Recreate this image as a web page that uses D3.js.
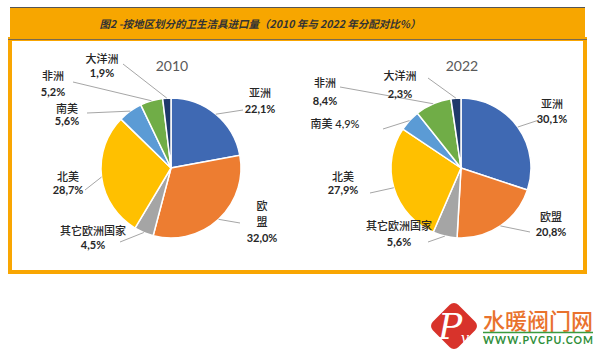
<!DOCTYPE html>
<html>
<head>
<meta charset="utf-8">
<script src="https://cdn.jsdelivr.net/npm/d3@7"></script>
<style>
  body { margin: 0; background: #fff; }
  svg { display: block; }
  .cjk { font-family: "Noto Sans CJK SC", sans-serif; }
</style>
</head>
<body>
<svg id="chart"></svg>
<script>
// data
var regions = ['亚洲', '欧盟', '其它欧洲国家', '北美', '南美', '非洲', '大洋洲']
var share2010 = [22.1, 32.0, 4.5, 28.7, 5.6, 5.2, 1.9]
var share2022 = [30.1, 20.8, 5.6, 27.9, 4.9, 8.4, 2.3]
var years = ['2010', '2022']
var title = '图2 -按地区划分的卫生洁具进口量（2010 年与 2022 年分配对比%）'

var colors = ['#3F69B3', '#ED7D31', '#A5A5A5', '#FFC000', '#5B9BD5', '#70AD47', '#1F3A6B']

var width = 600, height = 354
var radius = 70

// label placement (layout only), index matches regions
var labelLayout2010 = [
  {x: 260, y: 92, gap: 16, mode: 'two', ex: 243, ey: 110},
  {x: 262, y: 205, gap: 16, mode: 'vert', ex: 240, ey: 223},
  {x: 93, y: 230, gap: 14, mode: 'two', ex: 120, ey: 242},
  {x: 68, y: 176, gap: 13, mode: 'two', ex: 85, ey: 190},
  {x: 67, y: 108, gap: 12, mode: 'two', ex: 87, ey: 113},
  {x: 53, y: 75, gap: 16, mode: 'two', ex: 73, ey: 82},
  {x: 102, y: 58, gap: 14, mode: 'two', ex: 123, ey: 64}
]
var labelLayout2022 = [
  {x: 552, y: 103, gap: 15, mode: 'two', ex: 539, ey: 120},
  {x: 551, y: 216, gap: 15, mode: 'two', ex: 530, ey: 232},
  {x: 399, y: 225, gap: 16, mode: 'two', ex: 428, ey: 242},
  {x: 343, y: 176, gap: 13, mode: 'two', ex: 370, ey: 193},
  {x: 335, y: 123, gap: 0, mode: 'one', ex: 383, ey: 129},
  {x: 325, y: 82, gap: 18, mode: 'two', ex: 340, ey: 87},
  {x: 400, y: 75, gap: 18, mode: 'two', ex: 428, ey: 78}
]

var svg = d3.select('#chart')
  .attr('width', width)
  .attr('height', height)

// frame
svg.append('rect')
  .attr('x', 10).attr('y', 39)
  .attr('width', 575).attr('height', 233)
  .attr('fill', '#fff')
  .attr('stroke', '#F9A602')
  .attr('stroke-width', 4)

svg.append('rect')
  .attr('x', 10).attr('y', 7)
  .attr('width', 575).attr('height', 32)
  .attr('fill', '#F7A600')

svg.append('line')
  .attr('x1', 10).attr('x2', 585)
  .attr('y1', 7.5).attr('y2', 7.5)
  .attr('stroke', '#555').attr('stroke-width', 1.2)

svg.append('line')
  .attr('x1', 8).attr('x2', 587)
  .attr('y1', 39.5).attr('y2', 39.5)
  .attr('stroke', '#7a6a50').attr('stroke-width', 1)

svg.append('text')
  .attr('class', 'cjk')
  .attr('x', 260).attr('y', 23)
  .attr('text-anchor', 'middle')
  .attr('dominant-baseline', 'central')
  .attr('font-size', 10.5)
  .attr('font-style', 'italic')
  .attr('font-weight', 'bold')
  .attr('fill', '#333')
  .text(title)

var pie = d3.pie().sort(null).value(d => d)
var arc = d3.arc().innerRadius(0).outerRadius(radius)

function drawPie(cx, cy, values, year, layout) {
  var g = svg.append('g').attr('transform', 'translate(' + cx + ',' + cy + ')')
  var slices = pie(values)

  g.selectAll('path')
    .data(slices)
    .enter()
    .append('path')
      .attr('d', arc)
      .attr('fill', (d, i) => colors[i])
      .attr('stroke', '#fff')
      .attr('stroke-width', 1.5)

  svg.append('text')
    .attr('x', cx + 1).attr('y', cy - 103)
    .attr('text-anchor', 'middle')
    .attr('dominant-baseline', 'central')
    .attr('font-family', 'Lato, sans-serif')
    .attr('font-size', 14)
    .attr('fill', '#595959')
    .text(year)

  // leader lines from the slice edge to the label
  slices.forEach((s, i) => {
    var a = (s.startAngle + s.endAngle) / 2
    var L = layout[i]
    svg.append('line')
      .attr('x1', cx + radius * Math.sin(a))
      .attr('y1', cy - radius * Math.cos(a))
      .attr('x2', L.ex).attr('y2', L.ey)
      .attr('stroke', '#A6A6A6')
      .attr('stroke-width', 1)

    var pct = d3.format('.1f')(values[i]).replace('.', ',') + '%'
    var lab = svg.append('g')
    var lines = []
    if (L.mode == 'two') lines = [[regions[i], 'n'], [pct, 'p']]
    else if (L.mode == 'vert') lines = regions[i].split('').map(c => [c, 'n']).concat([[pct, 'p']])
    else lines = [[regions[i] + ' ' + pct, 'n']]

    lines.forEach((ln, k) => {
      lab.append('text')
        .attr('x', L.x)
        .attr('y', L.y + k * L.gap)
        .attr('text-anchor', 'middle')
        .attr('dominant-baseline', 'central')
        .attr('font-family', 'Lato, "Noto Sans CJK SC", sans-serif')
        .attr('font-size', 11)
        .attr('font-weight', ln[1] == 'p' ? 'bold' : 500)
        .attr('fill', '#262626')
        .text(ln[0])
    })
  })
}

drawPie(171, 168, share2010, years[0], labelLayout2010)
drawPie(461, 168, share2022, years[1], labelLayout2022)

// watermark logo
var logo = svg.append('g')
logo.append('rect')
  .attr('x', -18).attr('y', -18)
  .attr('width', 36).attr('height', 36)
  .attr('rx', 6)
  .attr('fill', '#D8332B')
  .attr('transform', 'translate(454,326) rotate(45)')
logo.append('text')
  .attr('x', 450).attr('y', 339)
  .attr('text-anchor', 'middle')
  .attr('font-family', '"DejaVu Serif", serif')
  .attr('font-style', 'italic')
  .attr('font-size', 36)
  .attr('fill', '#fff')
  .text('P')
logo.append('text')
  .attr('x', 465).attr('y', 343)
  .attr('text-anchor', 'middle')
  .attr('font-family', '"DejaVu Serif", serif')
  .attr('font-style', 'italic')
  .attr('font-size', 15)
  .attr('fill', '#fff')
  .text('v')
logo.append('text')
  .attr('class', 'cjk')
  .attr('x', 483).attr('y', 329)
  .attr('font-size', 22)
  .attr('font-weight', 500)
  .attr('textLength', 110)
  .attr('fill', '#E9722D')
  .text('水暖阀门网')
logo.append('line')
  .attr('x1', 483).attr('x2', 593)
  .attr('y1', 332.5).attr('y2', 332.5)
  .attr('stroke', '#3A9B3F').attr('stroke-width', 1.5)
logo.append('text')
  .attr('x', 483).attr('y', 344)
  .attr('font-family', 'Lato, sans-serif')
  .attr('font-size', 10.5)
  .attr('font-weight', 'bold')
  .attr('textLength', 110)
  .attr('fill', '#2F8F3A')
  .text('WWW.PVCPU.COM')
</script>
</body>
</html>
